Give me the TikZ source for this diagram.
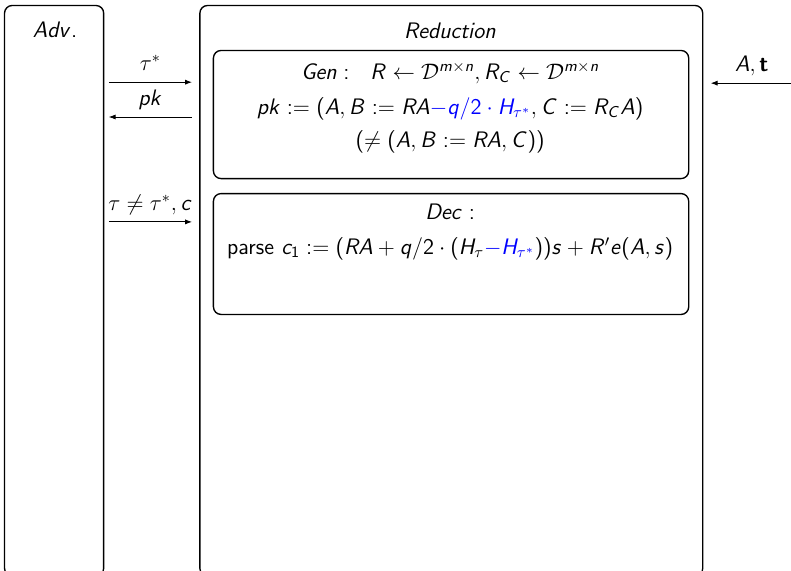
\RequirePackage{fix-cm}
\documentclass[tikz,border=0pt]{standalone}
\usepackage{amsmath}
\usepackage{xcolor}
\usepackage{tikz}
\usetikzlibrary{arrows.meta, positioning, calc}
\renewcommand{\familydefault}{\sfdefault}
% sans serif math, as in slides
\DeclareSymbolFont{sfslanted}{OT1}{cmss}{m}{sl}
\SetSymbolFont{operators}{normal}{OT1}{cmss}{m}{n}
\SetMathAlphabet{\mathbf}{normal}{OT1}{cmss}{bx}{n}
\makeatletter
\@for\sfch:=A,B,C,D,E,F,G,H,I,J,K,L,M,N,O,P,Q,R,S,T,U,V,W,X,Y,Z,a,b,c,d,e,f,g,h,i,j,k,l,m,n,o,p,q,r,s,t,u,v,w,x,y,z\do{%
  \expandafter\DeclareMathSymbol\expandafter{\sfch}{\mathalpha}{sfslanted}{\expandafter`\sfch}}
\makeatother
\tikzset{
  party/.style={rectangle, draw, line width=0.8pt, rounded corners=4.5pt},
  algbox/.style={rectangle, draw, line width=0.8pt, rounded corners=4.5pt},
  msg/.style={-{Latex[length=4pt,width=3pt]}, line width=0.5pt},
  txt/.style={inner sep=1pt, font=\fontsize{13.2}{16}\selectfont},
  msglbl/.style={txt, anchor=base, yshift=6.8pt}
}
\begin{document}
\begin{tikzpicture}
  \useasboundingbox (0,0) rectangle (16.36,11.79);

  % Parties
  \node[party, minimum width=2.05cm, minimum height=11.8cm, anchor=north west] (adv) at (0.08,11.69) {};
  \node[party, minimum width=10.40cm, minimum height=11.8cm, anchor=north west] (red) at (4.12,11.69) {};
  \node[txt] (advlbl) at (1.14,11.17) {$Adv$.};
  \node[txt] (redlbl) at (9.31,11.15) {$Reduction$};

  % Gen
  \node[algbox, minimum width=9.83cm, minimum height=2.65cm, anchor=north west] (gen) at (4.40,10.76) {};
  \node[txt] (gen1) at (9.31,10.28) {$Gen:\ \ R \leftarrow \mathcal{D}^{m\times n}, R_C \leftarrow \mathcal{D}^{m\times n}$};
  \node[txt] (gen2) at (9.31,9.54) {$pk := (A, B := RA\textcolor{blue}{-q/2\cdot H_{\tau^*}}, C := R_C A)$};
  \node[txt] (gen3) at (9.31,8.86) {$(\neq (A, B := RA, C))$};

  % Dec
  \node[txt] (dec1) at (9.31,7.41) {$Dec:$};
  \node[txt] (dec2) at (9.31,6.64) {parse $c_1 := (RA + q/2\cdot(H_\tau\textcolor{blue}{-H_{\tau^*}}))s + R'e(A,s)$};
  \node[algbox, minimum width=9.83cm, minimum height=2.50cm, anchor=north west] (dec) at (4.40,7.80) {};

  % Messages
  \coordinate (m1a) at (2.25,10.09);
  \coordinate (m1b) at (3.97,10.09);
  \coordinate (m2a) at (3.97,9.37);
  \coordinate (m2b) at (2.25,9.37);
  \coordinate (m3a) at (2.25,7.20);
  \coordinate (m3b) at (3.97,7.20);
  \coordinate (m4a) at (16.40,10.07);
  \coordinate (m4b) at (14.70,10.07);
  \draw[msg] (m1a) -- node[msglbl] (m1lbl) {$\tau^*$} (m1b);
  \draw[msg] (m2a) -- node[msglbl] (m2lbl) {$pk$} (m2b);
  \draw[msg] (m3a) -- node[msglbl] (m3lbl) {$\tau \neq \tau^*, c$} (m3b);
  \draw[msg] (m4a) -- node[msglbl] (m4lbl) {$A, \mathbf{t}$} (m4b);
\end{tikzpicture}
\end{document}
